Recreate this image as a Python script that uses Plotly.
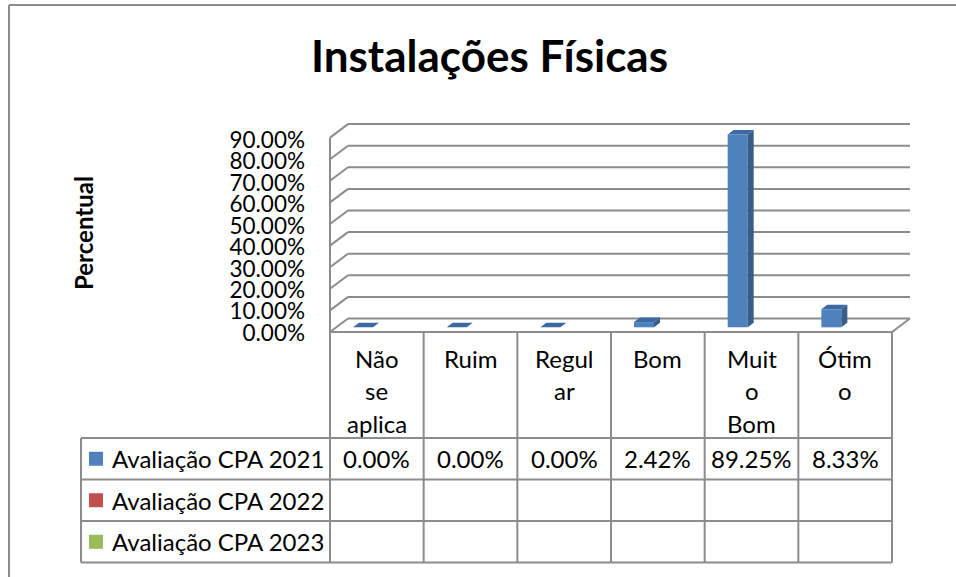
import plotly.graph_objects as go

# ---------------- data ----------------
categories = ["Não se aplica", "Ruim", "Regular", "Bom", "Muito Bom", "Ótimo"]
header_labels = ["Não<br>se<br>aplica", "Ruim", "Regul<br>ar", "Bom", "Muit<br>o<br>Bom", "Ótim<br>o"]
series_names = ["Avaliação CPA 2021", "Avaliação CPA 2022", "Avaliação CPA 2023"]
values_2021 = [0.0, 0.0, 0.0, 0.0242, 0.8925, 0.0833]
values_2022 = [None, None, None, None, None, None]
values_2023 = [None, None, None, None, None, None]
y_ticks = [0.0, 0.1, 0.2, 0.3, 0.4, 0.5, 0.6, 0.7, 0.8, 0.9]
title_text = "Instalações Físicas"
y_title = "Percentual"

series_values = [values_2021, values_2022, values_2023]
series_colors = ["#4F81BD", "#C0504D", "#9BBB59"]
side_color = "#385D8A"
top_color = "#3C69A2"
line_color = "#8C8C8C"
FONT = "Lato"

# ---------------- layout geometry (pixels) ----------------
W, H = 956, 577
PL, PR, PT, PB = 330, 910, 100, 340          # plot area
S = 216.0                                     # px per unit (100 %) on the value axis
BAR0 = 327.3                                  # px of value 0 on bar plane
CAT_W = 93.67                                 # px per category
X0_CENTER = 363.0                             # px of first bar centre

def PX(x):
    return (x - PL) / (PR - PL)

def PY(y):
    return (PB - y) / (PB - PT)

n = len(categories)
xr0 = -(X0_CENTER - PL) / CAT_W
xr1 = xr0 + (PR - PL) / CAT_W
y_range = [-(PB - BAR0) / S, (BAR0 - PT) / S]
LBL0 = 333.0
LS = 214.4
y2_range = [-(PB - LBL0) / LS, (LBL0 - PT) / LS]

fig = go.Figure()

bar_w = 20.0 / CAT_W
for name, vals, col in zip(series_names, series_values, series_colors):
    fig.add_trace(go.Bar(x=categories, y=vals, name=name, marker=dict(color=col, line=dict(width=0)),
                         width=bar_w, showlegend=False, hoverinfo="skip"))

# invisible trace to carry the label axis
fig.add_trace(go.Scatter(x=[categories[0]], y=[0], yaxis="y2", mode="markers",
                         marker=dict(opacity=0), showlegend=False, hoverinfo="skip"))

shapes = []
ln = dict(color=line_color, width=2)

# 3-D walls / gridlines
df = (BAR0 - 332.0) / S      # front plane offset
db = (BAR0 - 318.5) / S      # back plane offset
bx = PX(348)
front_right = PX(PL + CAT_W * n)
for v in y_ticks:
    shapes.append(dict(type="line", xref="paper", yref="y", x0=0, x1=bx, y0=v + df, y1=v + db,
                       line=ln, layer="below"))
    shapes.append(dict(type="line", xref="paper", yref="y", x0=bx, x1=1, y0=v + db, y1=v + db,
                       line=ln, layer="below"))
shapes.append(dict(type="line", xref="paper", yref="y", x0=0, x1=0, y0=y_ticks[0] + df,
                   y1=y_ticks[-1] + df, line=ln, layer="below"))
shapes.append(dict(type="line", xref="paper", yref="y", x0=0, x1=front_right, y0=df, y1=df,
                   line=ln, layer="below"))
shapes.append(dict(type="line", xref="paper", yref="y", x0=front_right, x1=1, y0=df, y1=db,
                   line=ln, layer="below"))

# 3-D faces of bars (derived from values)
ddx = 6.0 / CAT_W
ddy = 4.5 / S
for i, v in enumerate(values_2021):
    if v is None:
        continue
    l, r = i - bar_w / 2, i + bar_w / 2
    shapes.append(dict(type="path", xref="x", yref="y",
                       path=f"M {r},0 L {r+ddx},{ddy} L {r+ddx},{v+ddy} L {r},{v} Z",
                       fillcolor=side_color, line=dict(width=0)))
    shapes.append(dict(type="path", xref="x", yref="y",
                       path=f"M {l},{v} L {l+ddx},{v+ddy} L {r+ddx},{v+ddy} L {r},{v} Z",
                       fillcolor=top_color, line=dict(width=0)))

# data table
col_x = [PL + CAT_W * k for k in range(n + 1)]
row_y = [438.0, 479.5, 521.0, 562.5]
TL = 81.0
for x in col_x:
    shapes.append(dict(type="line", xref="paper", yref="paper", x0=PX(x), x1=PX(x),
                       y0=PY(332), y1=PY(row_y[-1]), line=ln))
shapes.append(dict(type="line", xref="paper", yref="paper", x0=PX(TL), x1=PX(TL),
                   y0=PY(row_y[0]), y1=PY(row_y[-1]), line=ln))
for y in row_y:
    shapes.append(dict(type="line", xref="paper", yref="paper", x0=PX(TL), x1=PX(col_x[-1]),
                       y0=PY(y), y1=PY(y), line=ln))

# chart border
shapes.append(dict(type="line", xref="paper", yref="paper", x0=PX(9), x1=PX(W + 5),
                   y0=PY(5), y1=PY(5), line=ln))
shapes.append(dict(type="line", xref="paper", yref="paper", x0=PX(9), x1=PX(9),
                   y0=PY(5), y1=PY(H + 5), line=ln))

annotations = []
tfont = dict(family=FONT, size=24, color="black")
for i, lab in enumerate(header_labels):
    cx = PX((col_x[i] + col_x[i + 1]) / 2)
    for j, part in enumerate(lab.split("<br>")):
        annotations.append(dict(x=cx, y=PY(358 + 32.7 * j), xref="paper", yref="paper", text=part,
                                showarrow=False, font=tfont, xanchor="center", yanchor="middle"))

for r, (name, vals, col) in enumerate(zip(series_names, series_values, series_colors)):
    cy = (row_y[r] + row_y[r + 1]) / 2
    shapes.append(dict(type="rect", xref="paper", yref="paper", x0=PX(89), x1=PX(103),
                       y0=PY(cy - 7), y1=PY(cy + 7), fillcolor=col, line=dict(width=0)))
    annotations.append(dict(x=PX(110), y=PY(cy), xref="paper", yref="paper", text=name,
                            showarrow=False, font=tfont, xanchor="left", yanchor="middle"))
    for i, v in enumerate(vals):
        if v is None:
            continue
        cx = PX((col_x[i] + col_x[i + 1]) / 2)
        annotations.append(dict(x=cx, y=PY(cy), xref="paper", yref="paper", text=f"{v*100:.2f}%",
                                showarrow=False, font=tfont, xanchor="center", yanchor="middle"))

annotations.append(dict(x=PX(83), y=PY(233), xref="paper", yref="paper", text=f"<b>{y_title}</b>",
                        textangle=-90, showarrow=False, font=dict(family=FONT, size=24, color="black"),
                        xanchor="center", yanchor="middle"))

fig.update_layout(
    width=W, height=H,
    margin=dict(l=PL, r=W - PR, t=PT, b=H - PB, pad=0),
    paper_bgcolor="white", plot_bgcolor="rgba(0,0,0,0)",
    title=dict(text=f"<b>{title_text}</b>", x=489.5 / W, y=1 - 57 / H, xanchor="center",
               yanchor="middle", xref="container", yref="container",
               font=dict(family=FONT, size=44, color="black")),
    barmode="overlay",
    xaxis=dict(type="category", range=[xr0, xr1], visible=False, fixedrange=True),
    yaxis=dict(range=y_range, visible=False, fixedrange=True),
    yaxis2=dict(range=y2_range, overlaying="y", side="left", tickvals=y_ticks, tickformat=".2%",
                showgrid=False, zeroline=False, showline=False, ticks="", ticklabelstandoff=24,
                tickfont=dict(family=FONT, size=22.5, color="black"), fixedrange=True),
    shapes=shapes, annotations=annotations, showlegend=False,
)

fig.write_html("out.html", config={"displayModeBar": False},
               post_script="document.body.style.margin='0';document.body.style.padding='0';")
